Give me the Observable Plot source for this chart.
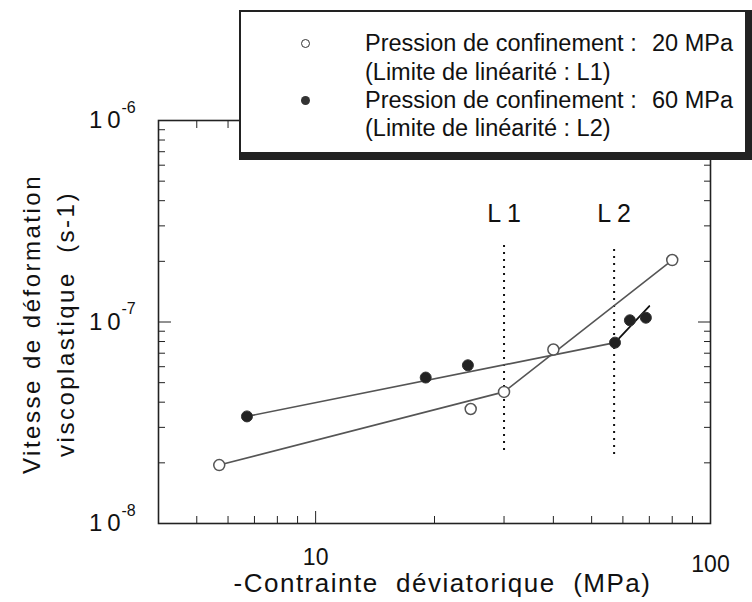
<!DOCTYPE html>
<html>
<head>
<meta charset="utf-8">
<script src="https://cdn.jsdelivr.net/npm/d3@7"></script>
<script src="https://cdn.jsdelivr.net/npm/@observablehq/plot@0.6"></script>
<style>
  html, body { margin: 0; padding: 0; background: #fff; }
  #wrap { position: relative; width: 752px; height: 602px; font-family: "Liberation Sans", Arial, sans-serif; }
  #legend { position: absolute; left: 239px; top: 10px; width: 504px; height: 140px; background: #fff;
    border-top: 2px solid #222; border-left: 2px solid #222; border-right: 7px solid #222; border-bottom: 8px solid #222; }
  #legend .row { position: absolute; left: 0; font-size: 23.5px; color: #111; white-space: pre; line-height: 28px; }
  #legend .mk { position: absolute; width: 9px; height: 9px; border-radius: 50%; box-sizing: border-box; }
</style>
</head>
<body>
<div id="wrap"></div>
<script>
// Data
const openStress = [5.7, 24.7, 30, 40, 80];              // 20 MPa confinement, MPa
const openRate   = [1.95e-8, 3.7e-8, 4.5e-8, 7.3e-8, 2.03e-7]; // s-1
const filledStress = [6.7, 19, 24.3, 57.3, 62.5, 68.6];  // 60 MPa confinement
const filledRate   = [3.4e-8, 5.3e-8, 6.1e-8, 7.9e-8, 1.02e-7, 1.05e-7];

// Fitted lines
const fitOpenLowStress = [5.7, 30];
const fitOpenLowRate   = [1.95e-8, 4.5e-8];
const fitOpenHighStress = [30, 80];
const fitOpenHighRate   = [4.5e-8, 2.03e-7];
const fitFilledLowStress = [6.7, 57.3];
const fitFilledLowRate   = [3.4e-8, 7.9e-8];
const fitFilledHighStress = [57.3, 70];
const fitFilledHighRate   = [7.9e-8, 1.2e-7];

// Linearity limits
const limitNames  = ["L 1", "L 2"];
const limitStress = [30, 57];
const limitTop    = [2.45e-7, 2.4e-7];
const limitBottom = [2.3e-8, 2.2e-8];
const limitLabelRate = [3.45e-7, 3.45e-7];

// Axis ticks
const xMajor = [10, 100];
const xMajorLabels = ["10", "100"];
const xMinor = [4, 5, 6, 7, 8, 9, 20, 30, 40, 50, 60, 70, 80, 90];
const yMajor = [1e-8, 1e-7, 1e-6];
const yMajorExp = ["-8", "-7", "-6"];
const yMinor = [2e-8,3e-8,4e-8,5e-8,6e-8,7e-8,8e-8,9e-8,2e-7,3e-7,4e-7,5e-7,6e-7,7e-7,8e-7,9e-7];

const xTitle = "-Contrainte\u00a0\u00a0déviatorique\u00a0\u00a0(MPa)";
const yTitle = "Vitesse de déformation\nviscoplastique\u00a0\u00a0(s-1)";

const legendRows = [
  ["Pression de confinement :", "20 MPa"],
  ["(Limite de linéarité : L1)", ""],
  ["Pression de confinement :", "60 MPa"],
  ["(Limite de linéarité : L2)", ""]
];

const zip = (xs, ys) => xs.map((x, i) => ({x, y: ys[i]}));
const openPts = zip(openStress, openRate);
const filledPts = zip(filledStress, filledRate);
const limits = limitNames.map((n, i) => ({n, x: limitStress[i], y1: limitBottom[i], y2: limitTop[i], ly: limitLabelRate[i]}));
const yLab = yMajor.map((v, i) => ({v, e: yMajorExp[i]}));
const xLab = xMajor.map((v, i) => ({v, t: xMajorLabels[i]}));
const font = "Liberation Sans, Arial, sans-serif";
const lineColor = "#555";

const chart = Plot.plot({
  width: 752,
  height: 602,
  marginLeft: 158,
  marginRight: 42,
  marginTop: 120,
  marginBottom: 79,
  style: {fontFamily: font, background: "white", color: "#111"},
  x: {type: "log", domain: [4, 100]},
  y: {type: "log", domain: [1e-8, 1e-6]},
  marks: [
    Plot.frame({stroke: "#222", strokeWidth: 1.6}),
    // inward ticks on all four sides
    Plot.axisX(xMinor, {anchor: "bottom", tickSize: -7, tickFormat: () => "", label: null, stroke: "#222"}),
    Plot.axisX(xMajor, {anchor: "bottom", tickSize: -12, tickFormat: () => "", label: null, stroke: "#222"}),
    Plot.axisX(xMinor, {anchor: "top", tickSize: -7, tickFormat: () => "", label: null, stroke: "#222"}),
    Plot.axisX(xMajor, {anchor: "top", tickSize: -12, tickFormat: () => "", label: null, stroke: "#222"}),
    Plot.axisY(yMinor, {anchor: "left", tickSize: -7, tickFormat: () => "", label: null, stroke: "#222"}),
    Plot.axisY(yMajor, {anchor: "left", tickSize: -13, tickFormat: () => "", label: null, stroke: "#222"}),
    Plot.axisY(yMinor, {anchor: "right", tickSize: -7, tickFormat: () => "", label: null, stroke: "#222"}),
    Plot.axisY(yMajor, {anchor: "right", tickSize: -13, tickFormat: () => "", label: null, stroke: "#222"}),
    // x tick labels
    Plot.text(xLab.slice(0, 1), {x: "v", text: "t", frameAnchor: "bottom", dy: 41, fontSize: 23, fill: "#111"}),
    Plot.text(xLab.slice(1), {x: "v", text: "t", frameAnchor: "bottom", dy: 48, fontSize: 23, fill: "#111"}),
    // y tick labels: mantissa + exponent
    Plot.text(yLab, {y: "v", text: () => "1\u20090", frameAnchor: "left", textAnchor: "end", dx: -38, fontSize: 24, fill: "#111"}),
    Plot.text(yLab, {y: "v", text: "e", frameAnchor: "left", textAnchor: "start", dx: -37, dy: -13, fontSize: 16, fill: "#111"}),
    // axis titles
    Plot.text([xTitle], {text: d => d, frameAnchor: "bottom", dx: 8, dy: 68, fontSize: 26, fill: "#111"}),
    Plot.text([yTitle], {text: d => d, frameAnchor: "left", textAnchor: "middle", rotate: -90, dx: -112, dy: 2, lineHeight: 1.4, fontSize: 24, fill: "#111"}),
    // limit lines
    Plot.ruleX(limits, {x: "x", y1: "y1", y2: "y2", stroke: "#111", strokeWidth: 2, strokeDasharray: "2,5"}),
    Plot.text(limits, {x: "x", y: "ly", text: "n", fontSize: 25, fill: "#111"}),
    // fitted lines
    Plot.line(zip(fitOpenLowStress, fitOpenLowRate), {x: "x", y: "y", stroke: lineColor, strokeWidth: 1.6}),
    Plot.line(zip(fitOpenHighStress, fitOpenHighRate), {x: "x", y: "y", stroke: lineColor, strokeWidth: 1.6}),
    Plot.line(zip(fitFilledLowStress, fitFilledLowRate), {x: "x", y: "y", stroke: lineColor, strokeWidth: 1.6}),
    Plot.line(zip(fitFilledHighStress, fitFilledHighRate), {x: "x", y: "y", stroke: "#111", strokeWidth: 1.8}),
    // points
    Plot.dot(openPts, {x: "x", y: "y", r: 5.5, fill: "white", stroke: "#555", strokeWidth: 1.5}),
    Plot.dot(filledPts, {x: "x", y: "y", r: 5.5, fill: "#222", stroke: "#333", strokeWidth: 1})
  ]
});

// letter spacing of the axis titles (wide typeface in the original)
d3.select(chart).selectAll("text").each(function() {
  const t = this.textContent;
  if (t.startsWith("-Contrainte")) d3.select(this).style("letter-spacing", "1.5px");
  if (t.startsWith("Vitesse")) d3.select(this).style("letter-spacing", "2.5px");
});

const wrap = document.getElementById("wrap");
wrap.appendChild(chart);

// Legend box overlapping the top of the chart
const legend = document.createElement("div");
legend.id = "legend";
const rowCenters = [31, 60, 88, 116];
legendRows.forEach((r, i) => {
  const a = document.createElement("div");
  a.className = "row";
  a.style.left = "124px";
  a.style.top = (rowCenters[i] - 14) + "px";
  a.textContent = r[0];
  legend.appendChild(a);
  if (r[1]) {
    const b = document.createElement("div");
    b.className = "row";
    b.style.left = "411px";
    b.style.top = (rowCenters[i] - 14) + "px";
    b.textContent = r[1];
    legend.appendChild(b);
  }
});
[[31, "open"], [88, "filled"]].forEach(([t, k]) => {
  const m = document.createElement("div");
  m.className = "mk";
  m.style.left = (64 - 4.5) + "px";
  m.style.top = (t - 4.5) + "px";
  if (k === "open") { m.style.border = "1.5px solid #333"; m.style.background = "#fff"; }
  else { m.style.background = "#333"; }
  legend.appendChild(m);
});
wrap.appendChild(legend);
</script>
</body>
</html>
